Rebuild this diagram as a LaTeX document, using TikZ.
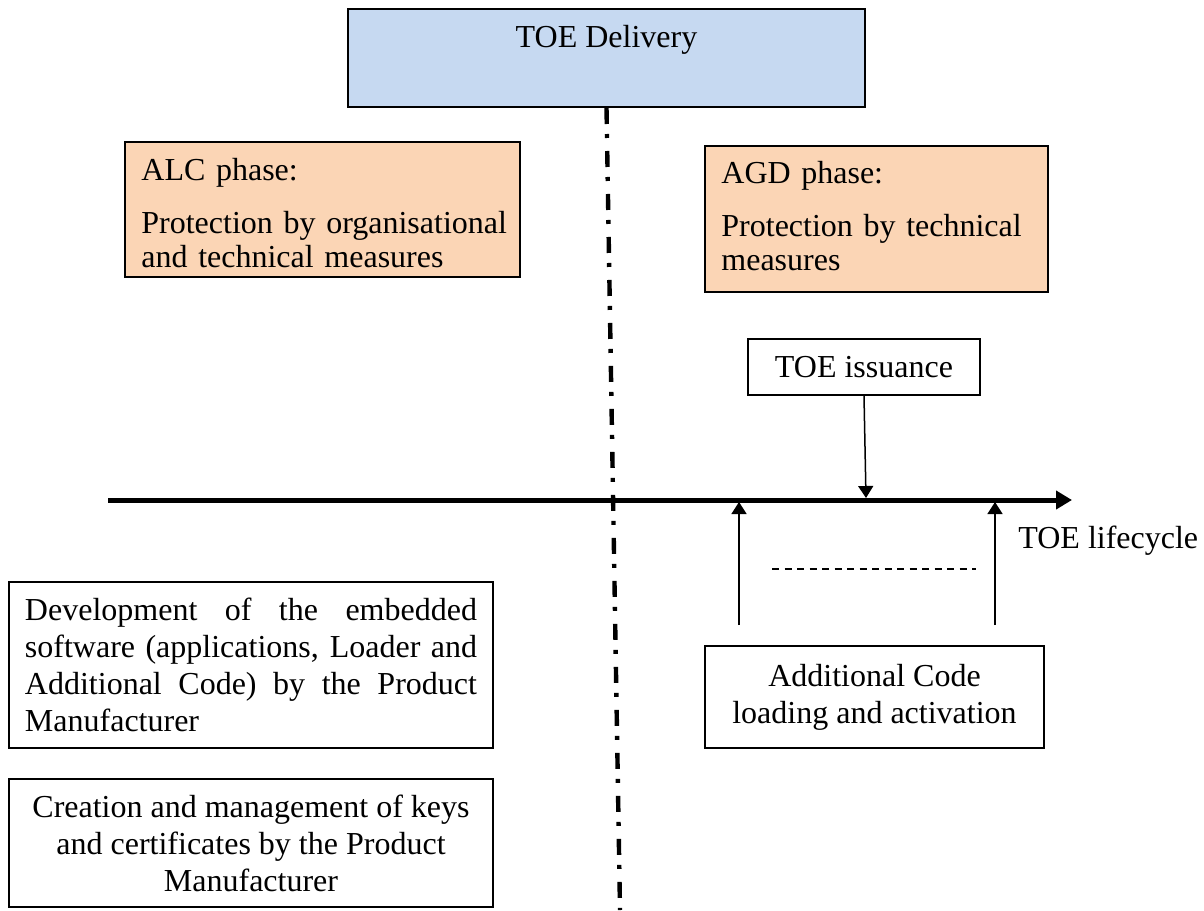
\documentclass[tikz,border=0pt]{standalone}
\usepackage{fontspec}
\setmainfont{Liberation Serif}
\usepackage{xcolor}
\usepackage{tikz}
\usetikzlibrary{arrows.meta}
\definecolor{deliveryblue}{HTML}{C6D9F1}
\definecolor{phasepeach}{HTML}{FBD5B5}

\begin{document}
\begin{tikzpicture}[x=0.5pt, y=-0.5pt, font=\fontsize{16}{18.5}\selectfont,
    box/.style={draw, line width=1pt, inner sep=0pt},
    phasetext/.style={anchor=north west, inner sep=0pt, align=left, font=\fontsize{16}{17}\selectfont},
    tickarrow/.style={-{Triangle[length=6pt,width=7.5pt]}, line width=0.75pt}]
            \useasboundingbox (0,0) rectangle (1204,910);

            \node[box, fill=deliveryblue, minimum width=258.5pt, minimum height=49pt,
                  label={[name=deliverytext, anchor=north, inner sep=0pt, yshift=-8.3pt]north:TOE Delivery}]
                  (delivery) at (606.5,58) {};

            \node[box, fill=phasepeach, minimum width=197.5pt, minimum height=67.5pt,
                  label={[name=alctext, phasetext, text width=185pt, xshift=8.5pt, yshift=-8.3pt]north west:{ALC phase:\\[9.5pt]Protection by organisational and technical measures}}]
                  (alc) at (322.5,209.5) {};
            \node[box, fill=phasepeach, minimum width=171.5pt, minimum height=73pt,
                  label={[name=agdtext, phasetext, text width=155pt, xshift=8.5pt, yshift=-8pt]north west:{AGD phase:\\[9.5pt]Protection by technical measures}}]
                  (agd) at (876.5,219) {};

            \node[box, minimum width=116pt, minimum height=28pt] (issuance) at (864,367) {TOE issuance};
            \node[box, minimum width=169.5pt, minimum height=51pt, align=center] (loading) at (874.5,697)
                  {Additional Code\\loading and activation};
            \node[box, minimum width=242pt, minimum height=83pt, text width=226pt, align=justify] (development) at (251,665)
                  {Development of the embedded\linebreak software (applications, Loader and\linebreak Additional Code) by the Product\linebreak Manufacturer};
            \node[box, minimum width=242pt, minimum height=64pt, align=center] (keys) at (251,843)
                  {Creation and management of keys\\and certificates by the Product\\Manufacturer};
            \node[anchor=base west, inner sep=0pt] (lifecycle) at (1018,548) {TOE lifecycle};

            \coordinate (lifestart) at (108,500);
            \coordinate (lifeend) at (1072,500);
            \coordinate (issued) at (866,498);
            \coordinate (loadfoot) at (739,625);
            \coordinate (loadtip) at (739,502);
            \coordinate (activefoot) at (995,625);
            \coordinate (activetip) at (995,502);
            \coordinate (gapstart) at (772,569);
            \coordinate (gapend) at (976,569);
            \coordinate (cutfoot) at (620,910);

            \draw[line width=2.2pt, dash pattern=on 8pt off 5pt on 2pt off 6.5pt] (delivery.south) -- (cutfoot);
            \draw[-{Triangle[length=8pt,width=9pt]}, line width=2.5pt] (lifestart) -- (lifeend);
            \draw[tickarrow] (issuance.south) -- (issued);
            \draw[tickarrow] (loadfoot) -- (loadtip);
            \draw[tickarrow] (activefoot) -- (activetip);
            \draw[line width=0.6pt, dash pattern=on 3.5pt off 2.75pt] (gapstart) -- (gapend);
        \end{tikzpicture}
\end{document}
